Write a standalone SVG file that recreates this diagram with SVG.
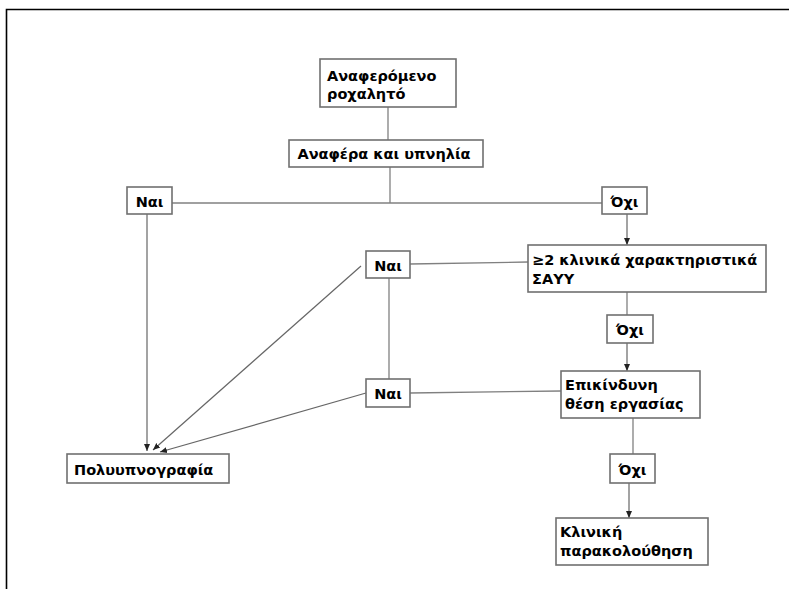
<svg xmlns="http://www.w3.org/2000/svg" width="789" height="589" viewBox="0 0 789 589">
<defs>
<marker id="ah" markerWidth="8" markerHeight="8" refX="7" refY="4" orient="auto" markerUnits="userSpaceOnUse">
<path d="M0,1 L7,4 L0,7 Z" fill="#222"/>
</marker>
<style>
.box{fill:#fff;stroke:#707070;stroke-width:1.6}
.t{font-family:"DejaVu Sans","Liberation Sans",sans-serif;font-weight:bold;font-size:14.5px;fill:#000}
.ln{stroke:#808080;stroke-width:1.3;fill:none}
.ar{stroke:#666;stroke-width:1.2;fill:none;marker-end:url(#ah)}
</style>
</defs>
<rect width="789" height="589" fill="#fff"/>
<path d="M6.5,589 L6.5,9.5 L789,9.5" fill="none" stroke="#000" stroke-width="1.6"/>
<g id="connectors">
<line class="ln" x1="388" y1="107" x2="388" y2="140"/>
<line class="ln" x1="390" y1="167" x2="390" y2="203"/>
<line class="ln" x1="172" y1="203" x2="602" y2="203"/>
<line class="ar" x1="147" y1="214" x2="147" y2="451"/>
<line class="ar" x1="627" y1="214" x2="627" y2="245"/>
<line class="ln" x1="627" y1="292" x2="627" y2="315"/>
<line class="ar" x1="627" y1="343" x2="627" y2="371"/>
<line class="ln" x1="633" y1="418" x2="633" y2="454"/>
<line class="ar" x1="629" y1="483" x2="629" y2="518"/>
<line class="ln" x1="410" y1="264" x2="528" y2="262"/>
<line class="ln" x1="410" y1="393" x2="561" y2="391"/>
<line class="ln" x1="389" y1="278" x2="389" y2="379"/>
<line class="ar" x1="361" y1="266" x2="153" y2="450"/>
<line class="ar" x1="366" y1="393" x2="160" y2="452"/>
</g>
<g id="n1"><rect class="box" x="320" y="59" width="136" height="48"/><text class="t" x="327" y="81">Αναφερόμενο</text><text class="t" x="327" y="99">ροχαλητό</text></g>
<g id="n2"><rect class="box" x="289" y="140" width="194" height="27"/><text class="t" x="384" y="159" text-anchor="middle">Αναφέρα και υπνηλία</text></g>
<g id="yes1"><rect class="box" x="127" y="187" width="45" height="27"/><text class="t" x="149.5" y="207" text-anchor="middle">Ναι</text></g>
<g id="no1"><rect class="box" x="602" y="187" width="45" height="27"/><text class="t" x="624.5" y="207" text-anchor="middle">Όχι</text></g>
<g id="n3"><rect class="box" x="528" y="245" width="238" height="47"/><text class="t" x="532" y="265">≥2 κλινικά χαρακτηριστικά</text><text class="t" x="532" y="284">ΣΑΥΥ</text></g>
<g id="no2"><rect class="box" x="607" y="315" width="46" height="28"/><text class="t" x="630" y="335" text-anchor="middle">Όχι</text></g>
<g id="n4"><rect class="box" x="561" y="371" width="139" height="47"/><text class="t" x="565" y="390">Επικίνδυνη</text><text class="t" x="565" y="409">θέση εργασίας</text></g>
<g id="no3"><rect class="box" x="610" y="454" width="45" height="29"/><text class="t" x="632.5" y="475" text-anchor="middle">Όχι</text></g>
<g id="n5"><rect class="box" x="556" y="518" width="152" height="47"/><text class="t" x="560" y="537">Κλινική</text><text class="t" x="560" y="556">παρακολούθηση</text></g>
<g id="yes2"><rect class="box" x="366" y="251" width="44" height="27"/><text class="t" x="388" y="271" text-anchor="middle">Ναι</text></g>
<g id="yes3"><rect class="box" x="366" y="379" width="44" height="28"/><text class="t" x="388" y="399" text-anchor="middle">Ναι</text></g>
<g id="n6"><rect class="box" x="67" y="454" width="162" height="29"/><text class="t" x="74" y="475">Πολυυπνογραφία</text></g>
</svg>
